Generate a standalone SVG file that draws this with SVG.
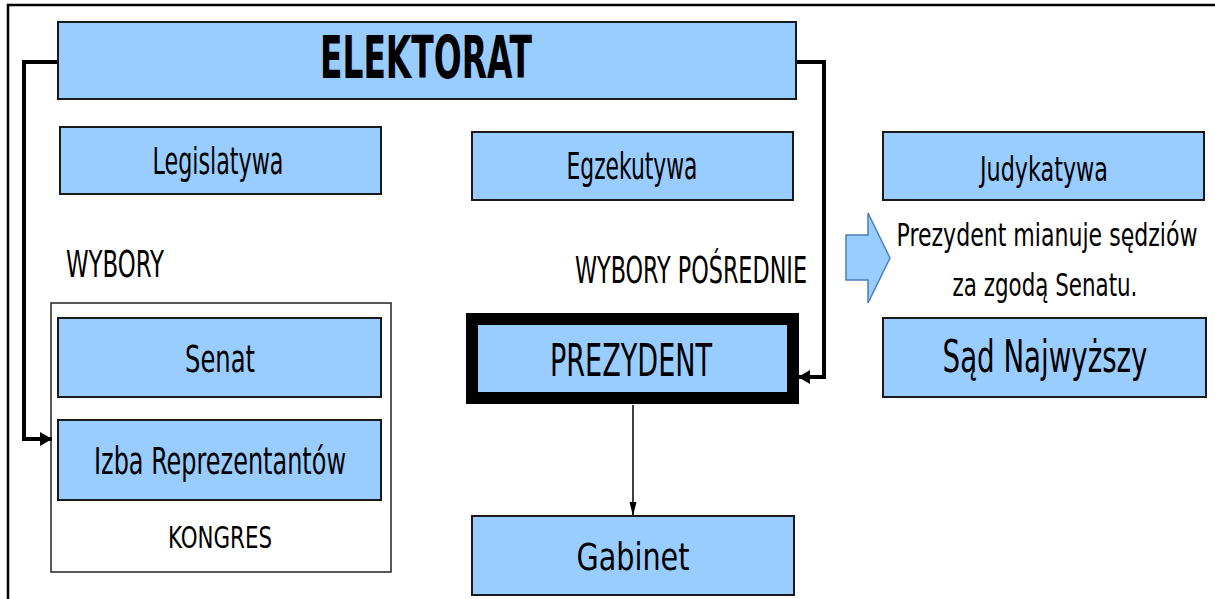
<svg xmlns="http://www.w3.org/2000/svg" width="1215" height="599" viewBox="0 0 1215 599">
<defs>
<style>
.box{fill:#99CCFF;stroke:#1a1a1a;stroke-width:2}
.t{font-family:"DejaVu Sans Condensed","DejaVu Sans",sans-serif;font-stretch:condensed;fill:#000}
.c{fill:none;stroke:#000;stroke-width:4}
.thin{fill:none;stroke:#000;stroke-width:1.5}
</style>
<marker id="ah" markerUnits="userSpaceOnUse" markerWidth="14" markerHeight="16" refX="12" refY="8" orient="auto">
<path d="M0,1 L12,8 L0,15 Z" fill="#000"/>
</marker>
<marker id="ahs" markerUnits="userSpaceOnUse" markerWidth="10" markerHeight="10" refX="14" refY="5" orient="auto" overflow="visible">
<path d="M0,1.5 L14,5 L0,8.5 Z" fill="#000"/>
</marker>
</defs>
<rect x="0" y="0" width="1215" height="599" fill="#fff"/>
<path d="M8,599 V5 H1215" fill="none" stroke="#000" stroke-width="2.5"/>

<g id="kongres">
<rect x="51" y="303" width="340" height="269" fill="#fff" stroke="#222" stroke-width="1.5"/>
<text class="t" x="220" y="548" font-size="31" text-anchor="middle" textLength="104" lengthAdjust="spacingAndGlyphs">KONGRES</text>
</g>

<g id="connectors">
<path class="c" d="M58,62 H24 V439 H52" marker-end="url(#ah)"/>
<path class="c" d="M796,62 H824 V377 H798" marker-end="url(#ah)"/>
<path class="thin" d="M633,405 V516" marker-end="url(#ahs)"/>
</g>

<g id="elektorat">
<rect class="box" x="58" y="22" width="738" height="77"/>
<text class="t" x="426" y="78" font-size="58" font-weight="bold" text-anchor="middle" textLength="212" lengthAdjust="spacingAndGlyphs">ELEKTORAT</text>
</g>

<g id="legislatywa">
<rect class="box" x="60" y="127" width="321" height="67"/>
<text class="t" x="218" y="174" font-size="38" text-anchor="middle" textLength="131" lengthAdjust="spacingAndGlyphs">Legislatywa</text>
</g>

<g id="egzekutywa">
<rect class="box" x="472" y="132" width="321" height="68"/>
<text class="t" x="632" y="179" font-size="38" text-anchor="middle" textLength="131" lengthAdjust="spacingAndGlyphs">Egzekutywa</text>
</g>

<g id="judykatywa">
<rect class="box" x="883" y="132" width="321" height="68"/>
<text class="t" x="1044" y="181" font-size="34" text-anchor="middle" textLength="128" lengthAdjust="spacingAndGlyphs">Judykatywa</text>
</g>

<g id="strzalka">
<path d="M846,235 H868 V213 L890,258 L868,303 V280 H846 Z" fill="#99CCFF" stroke="#4a7ebb" stroke-width="1.5"/>
</g>

<g id="mianowanie">
<text class="t" transform="translate(1047,246) scale(0.72,1)" x="0" y="0" font-size="32" text-anchor="middle" textLength="418" lengthAdjust="spacingAndGlyphs">Prezydent mianuje sędziów</text>
<text class="t" transform="translate(1045,296) scale(0.8,1)" x="0" y="0" font-size="32" text-anchor="middle" textLength="231" lengthAdjust="spacingAndGlyphs">za zgodą Senatu.</text>
</g>

<g id="sad">
<rect class="box" x="883" y="318" width="323" height="79"/>
<text class="t" transform="translate(1045,372) scale(0.8,1)" x="0" y="0" font-size="44" text-anchor="middle" textLength="256" lengthAdjust="spacingAndGlyphs">Sąd Najwyższy</text>
</g>

<g id="wybory">
<text class="t" x="66" y="277" font-size="37" textLength="98" lengthAdjust="spacingAndGlyphs">WYBORY</text>
</g>

<g id="wybory-posrednie">
<text class="t" x="575" y="283" font-size="37" textLength="232" lengthAdjust="spacingAndGlyphs">WYBORY POŚREDNIE</text>
</g>

<g id="senat">
<rect class="box" x="58" y="318" width="323" height="79"/>
<text class="t" x="220" y="372" font-size="37" text-anchor="middle" textLength="70" lengthAdjust="spacingAndGlyphs">Senat</text>
</g>

<g id="izba">
<rect class="box" x="58" y="420" width="323" height="80"/>
<text class="t" x="220" y="474" font-size="37" text-anchor="middle" textLength="252" lengthAdjust="spacingAndGlyphs">Izba Reprezentantów</text>
</g>

<g id="prezydent">
<rect x="472" y="319" width="321" height="79" fill="#99CCFF" stroke="#000" stroke-width="12"/>
<text class="t" x="631" y="376" font-size="45" text-anchor="middle" textLength="162" lengthAdjust="spacingAndGlyphs">PREZYDENT</text>
</g>

<g id="gabinet">
<rect class="box" x="472" y="516" width="322" height="79"/>
<text class="t" x="633" y="570" font-size="37" text-anchor="middle" textLength="113" lengthAdjust="spacingAndGlyphs">Gabinet</text>
</g>
</svg>
